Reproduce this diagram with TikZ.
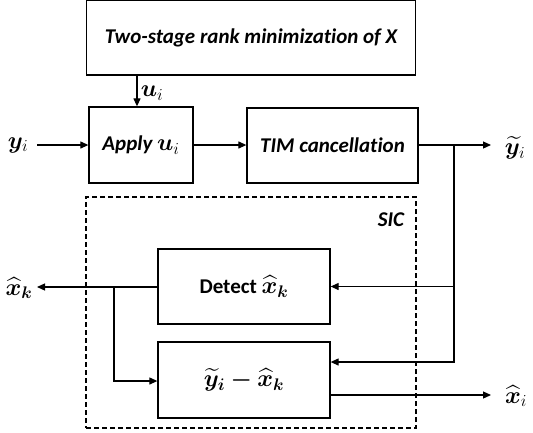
\documentclass[tikz,border=0pt]{standalone}
\usepackage{fix-cm}
\usepackage{amsmath}
\usepackage{bm}
\usepackage{fontspec}
\setmainfont{Carlito}[Ligatures=NoCommon]
\usetikzlibrary{arrows.meta}
\newcommand{\lgmath}[1]{{\fontsize{24}{26}\selectfont$#1$}}
\tikzset{
  blk/.style={draw, line width=1.3pt, inner sep=0pt, font=\fontsize{21}{24}\selectfont\bfseries\itshape},
  arr/.style={line width=1.2pt, -{Triangle[length=8pt,width=7pt]}},
  lbl/.style={inner sep=0pt, font=\fontsize{24}{26}\selectfont}
}
\begin{document}
\begin{tikzpicture}[x=1pt,y=-1pt]
\useasboundingbox (0,0) rectangle (533,432);
\node[blk, minimum width=329pt, minimum height=75pt] (top) at (251,37.5) {Two-stage rank minimization of X};
\node[blk, minimum width=104pt, minimum height=76pt] (apply) at (141,145) {Apply \lgmath{\bm{u}_i}};
\node[blk, minimum width=171pt, minimum height=75pt] (tim) at (332.5,145.5) {TIM cancellation};
\node[draw, dash pattern=on 5pt off 3pt, line width=1.2pt, minimum width=330pt, minimum height=231pt, inner sep=0pt] (sic) at (251,312.5) {};
\node[inner sep=0pt, font=\fontsize{21}{24}\selectfont\bfseries\itshape] (siclbl) at (391,220) {SIC};
\node[blk, font=\fontsize{21}{24}\selectfont\bfseries, minimum width=172pt, minimum height=75pt] (detect) at (244,286.5) {Detect \lgmath{\bm{\widehat{x}_k}}};
\node[blk, minimum width=172pt, minimum height=76pt] (sub) at (244,380) {\lgmath{\bm{\widetilde{y}_i-\widehat{x}_k}}};
% labels
\node[lbl] (yi) at (18,145) {$\bm{y}_i$};
\node[lbl] (ui) at (152,93) {$\bm{u}_i$};
\node[lbl] (yt) at (515,148) {$\widetilde{\bm{y}}_i$};
\node[lbl] (xk) at (19,288) {$\bm{\widehat{x}_k}$};
\node[lbl] (xi) at (516,396) {$\widehat{\bm{x}}_i$};
% coordinates
\coordinate (ux) at (137,0);
\coordinate (yin) at (37,145);
\coordinate (ytout) at (491,145);
\coordinate (br) at (454,145);
\coordinate (brlow) at (454,362);
\coordinate (xkout) at (37,287);
\coordinate (sp) at (114,287);
\coordinate (spl) at (114,381);
\coordinate (xiout) at (491,395);
% connectors
\draw[arr] (top.south -| ux) -- (apply.north -| ux);
\draw[arr] (yin) -- (apply.west |- yin);
\draw[arr] (apply.east |- yin) -- (tim.west |- yin);
\draw[arr] (tim.east |- yin) -- (ytout);
\draw[arr] (br) |- (detect.east);
\draw[arr] (br) -- (brlow) -- (sub.east |- brlow);
\draw[arr] (detect.west |- xkout) -- (xkout);
\draw[arr] (sp) -- (spl) -- (sub.west |- spl);
\draw[arr] (sub.east |- xiout) -- (xiout);
\end{tikzpicture}
\end{document}
